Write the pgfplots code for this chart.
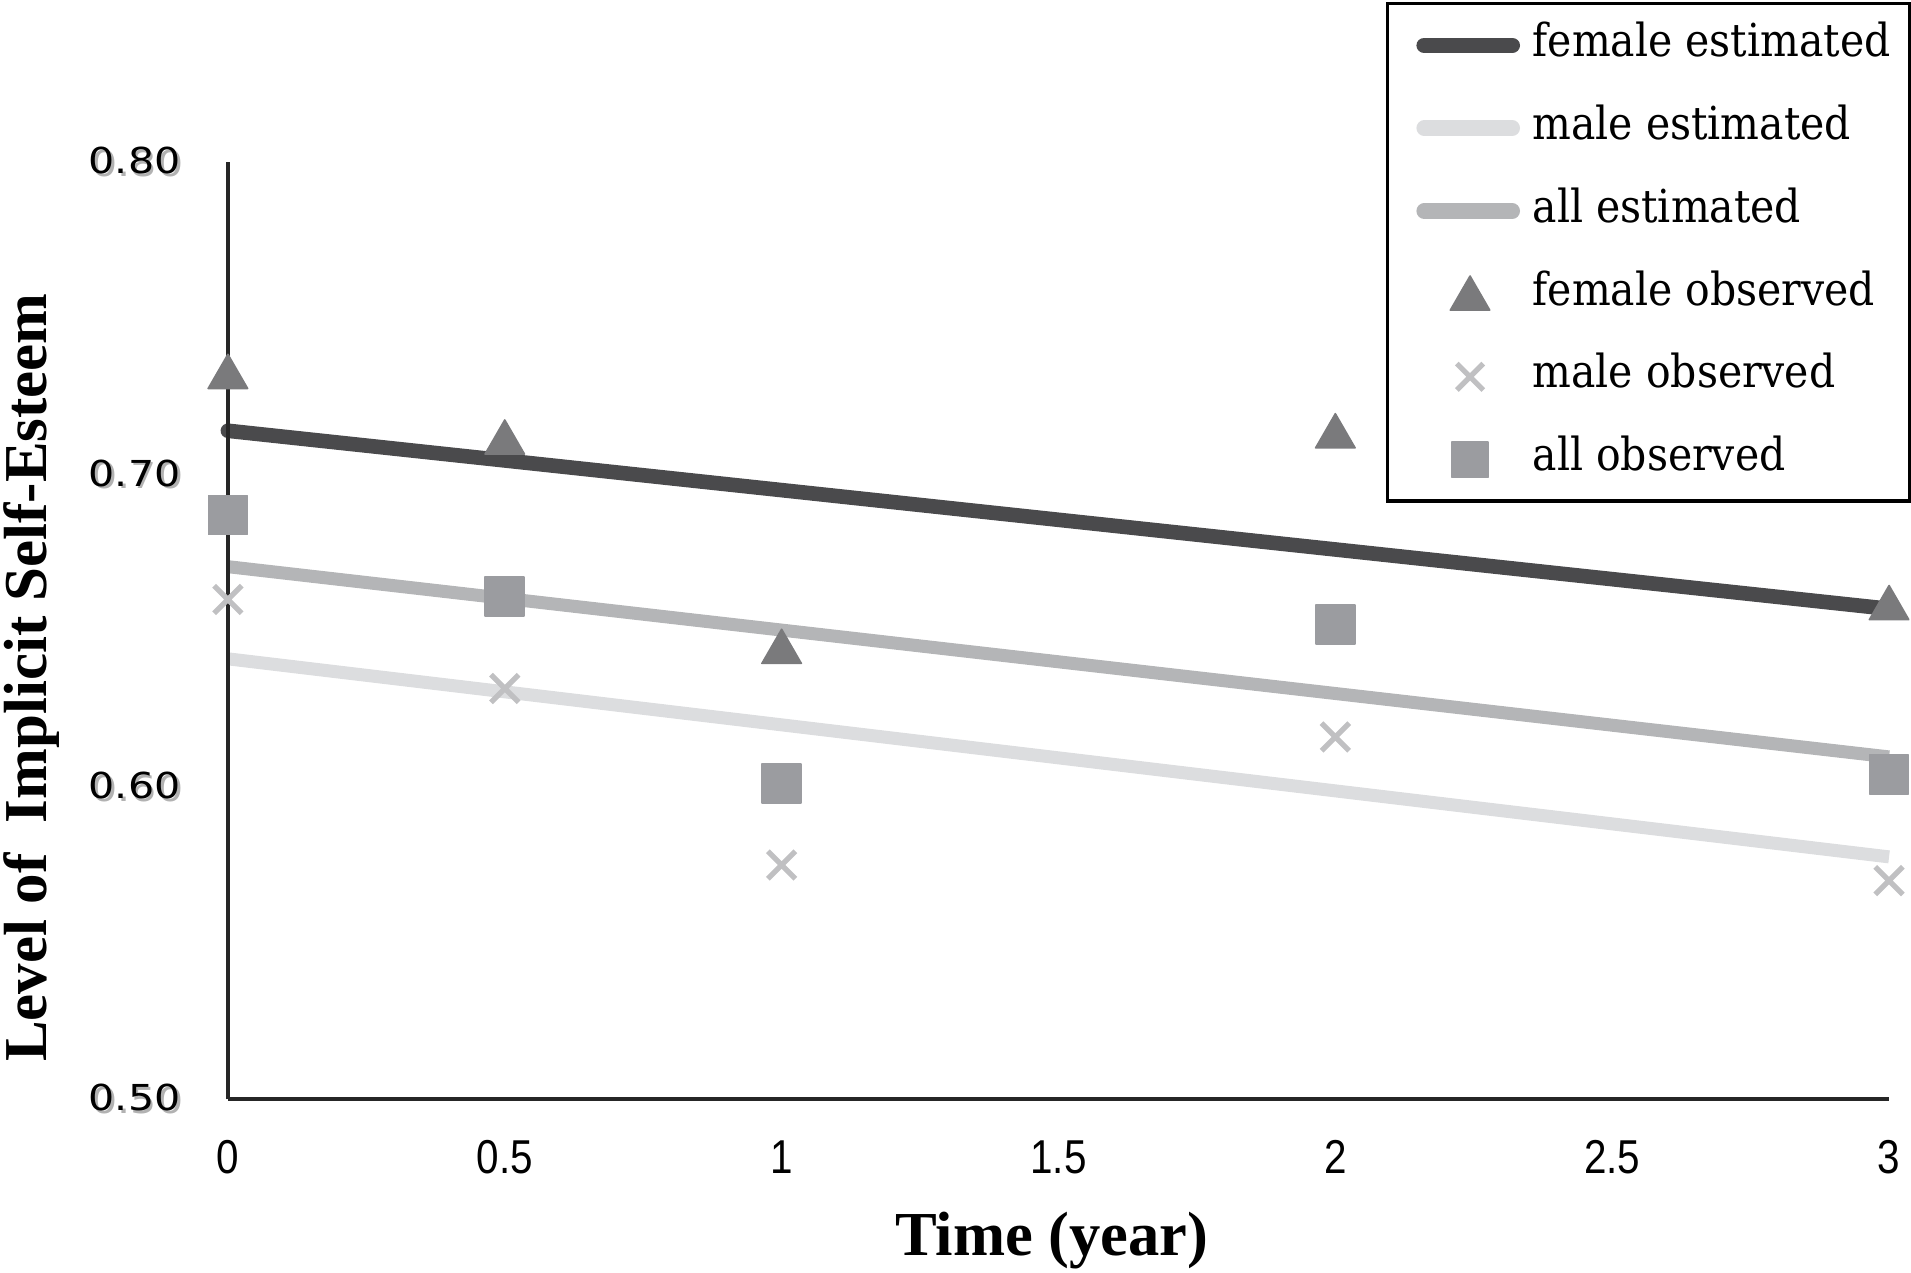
\documentclass[border=0pt]{standalone}
\usepackage{fontspec}
\usepackage{pgfplots}
\pgfplotsset{compat=1.18}
\newfontfamily\legfont{DejaVu Serif}[FakeStretch=0.9]
\newfontfamily\labfont{Liberation Serif}
\newfontfamily\ytfont{DejaVu Sans}[FakeStretch=1.15]
\newfontfamily\xtfont{Liberation Sans}[FakeStretch=0.85]
\definecolor{femEst}{RGB}{74,74,76}
\definecolor{maleEst}{RGB}{220,221,223}
\definecolor{allEst}{RGB}{180,181,183}
\definecolor{triCol}{RGB}{122,122,124}
\definecolor{xCol}{RGB}{192,192,194}
\definecolor{sqCol}{RGB}{155,156,160}
\newcommand\ytshadow[1]{\rlap{\kern0.7pt\raisebox{-0.7pt}{\textcolor{black!30}{#1}}}#1}
\begin{document}
\begin{tikzpicture}
\begin{axis}[
  scale only axis, width=408.9pt, height=230.7pt,
  xmin=0, xmax=3, ymin=0.5, ymax=0.8,
  axis x line*=bottom, axis y line*=left,
  axis line style={-, line width=1pt, draw=black!85},
  axis on top, clip=false,
  xtick={0,0.5,1,1.5,2,2.5,3},
  ytick={0.5,0.6,0.7,0.8},
  major tick length=0pt,
  /pgf/number format/assume math mode=true,
  xticklabel style={font=\xtfont\fontsize{11.7}{12}\selectfont, anchor=north, inner sep=0pt, yshift=-10pt},
  yticklabel={\ytshadow{\pgfmathprintnumber[fixed,fixed zerofill,precision=2]{\tick}}},
  yticklabel style={font=\ytfont\fontsize{8.8}{10}\selectfont, anchor=east, inner sep=0pt, xshift=-11.5pt},
  xlabel={Time (year)},
  ylabel={Level of\ \ Implicit Self-Esteem},
  xlabel style={font=\labfont\bfseries\fontsize{15.4}{16}\selectfont, at={(axis description cs:0.496,-0.151)}, anchor=center},
  ylabel style={font=\labfont\bfseries\fontsize{15}{16}\selectfont, at={(axis description cs:-0.1185,0.45)}, anchor=center, rotate=0},
  legend cell align=left,
  legend style={at={(axis description cs:0.697,1.171)}, anchor=north west,
    draw=black, line width=0.9pt, font=\legfont\fontsize{11.2}{13}\selectfont,
    inner xsep=4.8pt, inner ysep=5pt, row sep=9.9pt, column sep=0pt,
    nodes={inner sep=0pt, text height=8pt, text depth=2.5pt}},
]
\addplot[femEst, line width=3.6pt, line cap=round,
  legend image code/.code={\path (-2.4pt,0pt) (24.9pt,0pt); \draw[femEst, line width=3.8pt, line cap=round] (0pt,0pt) -- (21.7pt,0pt);}]
  coordinates {(0,0.714) (3,0.657)};
\addlegendentry{female estimated}
\addplot[maleEst, line width=3.2pt,
  legend image code/.code={\path (-2.4pt,0pt) (24.9pt,0pt); \draw[maleEst, line width=3.8pt, line cap=round] (0pt,0pt) -- (21.7pt,0pt);}]
  coordinates {(0,0.641) (3,0.5776)};
\addlegendentry{male estimated}
\addplot[allEst, line width=3.2pt,
  legend image code/.code={\path (-2.4pt,0pt) (24.9pt,0pt); \draw[allEst, line width=3.8pt, line cap=round] (0pt,0pt) -- (21.7pt,0pt);}]
  coordinates {(0,0.6705) (3,0.6096)};
\addlegendentry{all estimated}
\addplot[only marks, mark=triangle*, mark size=5.6pt, mark options={fill=triCol, draw=triCol, line width=0.4pt, line join=round, yshift=-1.4pt},
  legend image code/.code={\path (-2.4pt,0pt) (24.9pt,0pt); \draw[mark=triangle*, mark size=5.6pt, mark options={fill=triCol, draw=triCol, line width=0.4pt, line join=round, yshift=-1.2pt}] plot coordinates {(11.3pt,0pt)};}]
  coordinates {(0,0.733) (0.5,0.712) (1,0.645) (2,0.714) (3,0.659)};
\addlegendentry{female observed}
\addplot[only marks, mark=x, mark size=4.8pt, mark options={draw=xCol, line width=1.3pt},
  legend image code/.code={\path (-2.4pt,0pt) (24.9pt,0pt); \draw[mark=x, mark size=4.6pt, mark options={draw=xCol, line width=1.3pt}] plot coordinates {(11.3pt,0pt)};}]
  coordinates {(0,0.660) (0.5,0.6315) (1,0.575) (2,0.616) (3,0.570)};
\addlegendentry{male observed}
\addplot[only marks, mark=square*, mark size=4.8pt, mark options={fill=sqCol, draw=sqCol, line width=0.4pt, line join=round},
  legend image code/.code={\path (-2.4pt,0pt) (24.9pt,0pt); \draw[mark=square*, mark size=4.4pt, mark options={fill=sqCol, draw=sqCol, line width=0.4pt, line join=round}] plot coordinates {(11.3pt,0pt)};}]
  coordinates {(0,0.687) (0.5,0.661) (1,0.601) (2,0.652) (3,0.604)};
\addlegendentry{all observed}
\end{axis}
\pgfresetboundingbox
\path (-56.1pt,-42.6pt) rectangle (414.3pt,270.6pt);
\end{tikzpicture}
\end{document}
